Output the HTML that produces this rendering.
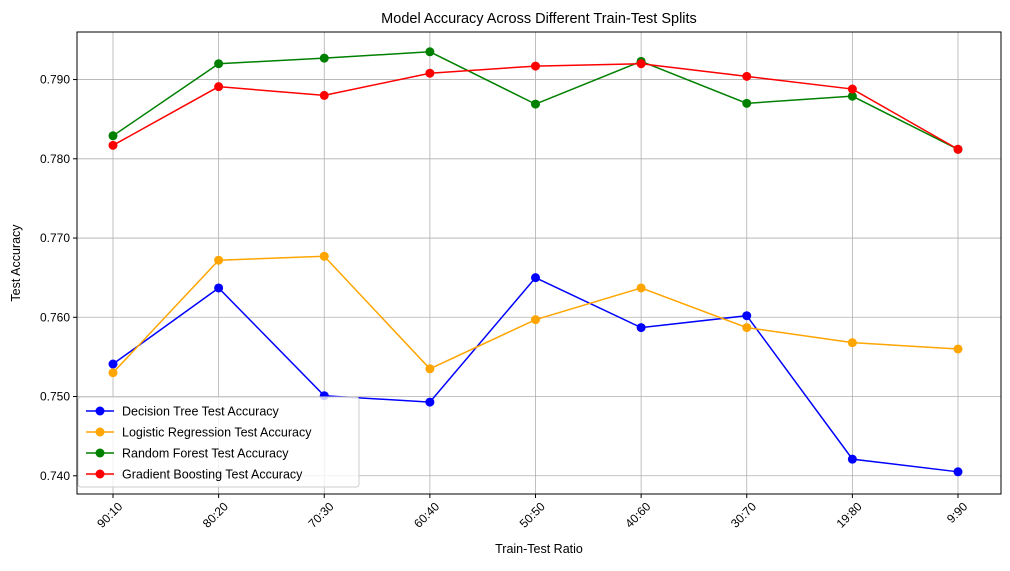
<!DOCTYPE html>
<html><head><meta charset="utf-8">
<style>
html,body{margin:0;padding:0;background:#fff;}
svg{display:block;font-family:"Liberation Sans","DejaVu Sans",sans-serif;}
</style></head>
<body>
<svg id="chart" width="1010" height="571"></svg>
<script>
const categories = ["90:10","80:20","70:30","60:40","50:50","40:60","30:70","19:80","9:90"];
const dtValues = [0.7541,0.7637,0.7501,0.7493,0.7650,0.7587,0.7602,0.7421,0.7405];
const lrValues = [0.7530,0.7672,0.7677,0.7535,0.7597,0.7637,0.7587,0.7568,0.7560];
const rfValues = [0.7829,0.7920,0.7927,0.7935,0.7869,0.7923,0.7870,0.7879,0.7812];
const gbValues = [0.7817,0.7891,0.7880,0.7908,0.7917,0.7920,0.7904,0.7888,0.7812];
const yTicks = [0.74,0.75,0.76,0.77,0.78,0.79];
const seriesNames = ["Decision Tree Test Accuracy","Logistic Regression Test Accuracy","Random Forest Test Accuracy","Gradient Boosting Test Accuracy"];

const NS="http://www.w3.org/2000/svg";
const svg=document.getElementById('chart');
const L=77,R=1001,T=32,B=494;
const yMin=0.7377,yMax=0.7960;
function x(i){return 113+i*(958-113)/(categories.length-1);}
function y(v){return B-(v-yMin)/(yMax-yMin)*(B-T);}
function el(tag,attrs,parent){const e=document.createElementNS(NS,tag);for(const k in attrs)e.setAttribute(k,attrs[k]);(parent||svg).appendChild(e);return e;}

const grid=el('g',{});


categories.forEach((c,i)=>{el('line',{x1:x(i),x2:x(i),y1:T,y2:B,stroke:'#b0b0b0','stroke-width':0.8},grid);});
yTicks.forEach(v=>{el('line',{x1:L,x2:R,y1:y(v),y2:y(v),stroke:'#b0b0b0','stroke-width':0.8},grid);});

const frame=el('rect',{x:L,y:T,width:R-L,height:B-T,fill:'none',stroke:'#000','stroke-width':1});



categories.forEach((c,i)=>{
  el('line',{x1:x(i),x2:x(i),y1:B,y2:B+4,stroke:'#000'});
  const t=el('text',{x:x(i)+4,y:B+7,'font-size':12,'text-anchor':'end',transform:`rotate(-45 ${x(i)+4} ${B+7})`});
  
  
  t.setAttribute('dominant-baseline','hanging');
  t.textContent=c;
});
yTicks.forEach(v=>{
  el('line',{x1:L-4,x2:L,y1:y(v),y2:y(v),stroke:'#000'});
  const t=el('text',{x:L-7,y:y(v)+4,'font-size':12,'text-anchor':'end'});
  
  
  t.textContent=v.toFixed(3);
});

const series=[[dtValues,'#0000ff','decision-tree'],[lrValues,'#ffa500','logistic-regression'],[rfValues,'#008000','random-forest'],[gbValues,'#ff0000','gradient-boosting']];
series.forEach(([vals,col,name])=>{
  const g=el('g',{});
  
  
  el('polyline',{points:vals.map((v,i)=>x(i)+','+y(v)).join(' '),fill:'none',stroke:col,'stroke-width':1.5},g);
  vals.forEach((v,i)=>{
    const c=el('circle',{cx:x(i),cy:y(v),r:4.5,fill:col},g);
    
    
  });
});

const title=el('text',{x:(L+R)/2,y:23,'font-size':14.5,'text-anchor':'middle'});


title.textContent='Model Accuracy Across Different Train-Test Splits';
const xt=el('text',{x:(L+R)/2,y:553,'font-size':12.5,'text-anchor':'middle'});


xt.textContent='Train-Test Ratio';
const yt=el('text',{x:20,y:(T+B)/2,'font-size':12.5,'text-anchor':'middle',transform:`rotate(-90 20 ${(T+B)/2})`});


yt.textContent='Test Accuracy';

const lg=el('g',{});


el('rect',{x:78,y:397,width:281,height:90,rx:3,fill:'#fff','fill-opacity':0.8,stroke:'#cccccc'},lg);
series.forEach(([vals,col,name],k)=>{
  const yy=411+k*21;
  const e=el('g',{},lg);
  
  
  el('line',{x1:86,x2:114,y1:yy,y2:yy,stroke:col,'stroke-width':1.5},e);
  el('circle',{cx:100,cy:yy,r:4.5,fill:col},e);
  const t=el('text',{x:122,y:yy+4.5,'font-size':12.5},e);
  t.textContent=seriesNames[k];
});
</script>
</body></html>
